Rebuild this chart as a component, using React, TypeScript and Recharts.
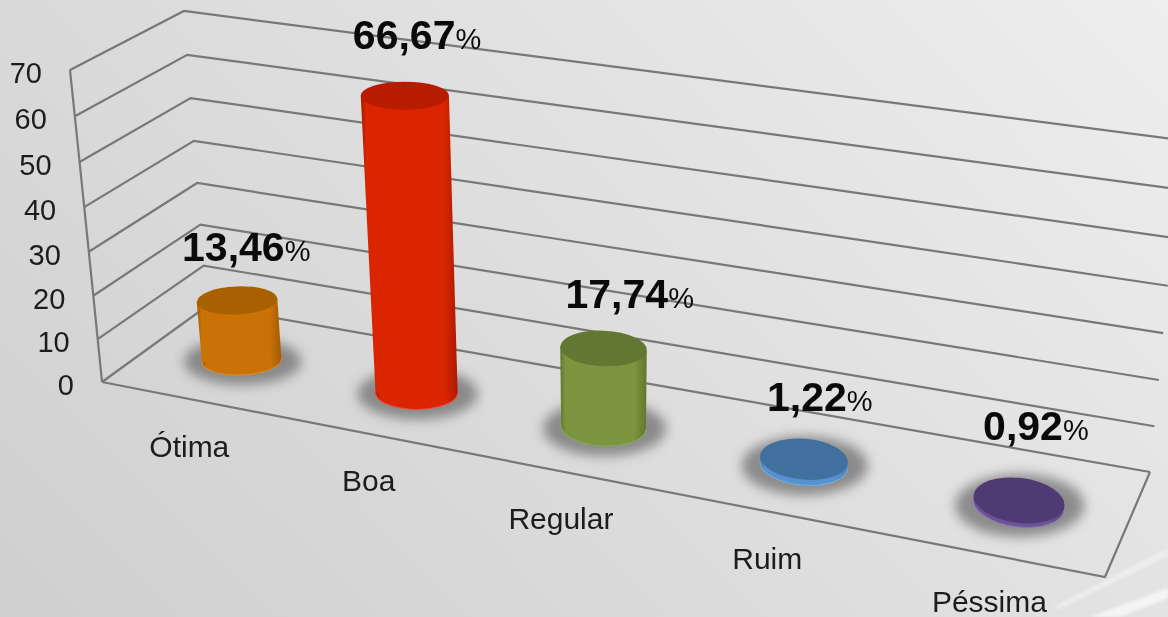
import { Bar, BarChart, CartesianGrid, LabelList, XAxis, YAxis } from 'recharts';

const categories = ['Ótima', 'Boa', 'Regular', 'Ruim', 'Péssima'];
const shares = [13.46, 66.67, 17.74, 1.22, 0.92];
const yTicks = [0, 10, 20, 30, 40, 50, 60, 70];

const rows = categories.map((name, i) => ({ name, share: shares[i] }));

// side, edge, top colours of each cylinder
const barColors = [
  { side: '#cb7206', edge: '#a05a02', top: '#a86000', rim: '#d98a30' },
  { side: '#da2500', edge: '#aa1a00', top: '#b81c00', rim: '#e8503a' },
  { side: '#7b963f', edge: '#5f7730', top: '#617732', rim: '#8fa85a' },
  { side: '#5592cf', edge: '#4a80b8', top: '#41709f', rim: '#7aaad8' },
  { side: '#6a5495', edge: '#5a4682', top: '#4f3a73', rim: '#8a78ad' },
];

// hand placed value labels, relative to the top of each cylinder
const labelNudge = [
  { dx: -55, dy: -39 },
  { dx: -52, dy: -47 },
  { dx: -38, dy: -40 },
  { dx: -37, dy: -48 },
  { dx: -36, dy: -60 },
];

const WIDTH = 1168;
const HEIGHT = 617;
const PLOT_LEFT = 102;
const PLOT_WIDTH = 1003;
const PLOT_TOP = 70;
const PLOT_BOTTOM = 382;
const FONT = '"Liberation Sans", Arial, sans-serif';
const GRID = '#787878';

// floor corners of the 3D box
const FL = [102, 382];
const FR = [1105, 577];
const BR = [1150, 472];
const BL = [207, 306];

// homography from the unit floor square to the picture
const det = (FR[0] - BR[0]) * (BL[1] - BR[1]) - (BL[0] - BR[0]) * (FR[1] - BR[1]);
const sx = FL[0] - FR[0] + BR[0] - BL[0];
const sy = FL[1] - FR[1] + BR[1] - BL[1];
const g = (sx * (BL[1] - BR[1]) - (BL[0] - BR[0]) * sy) / det;
const h = ((FR[0] - BR[0]) * sy - sx * (FR[1] - BR[1])) / det;
const denom = (u: number, d: number) => g * u + h * d + 1;
const project = (u: number, d: number) => {
  const a = FR[0] - FL[0] + g * FR[0];
  const b = BL[0] - FL[0] + h * BL[0];
  const c = FR[1] - FL[1] + g * FR[1];
  const e = BL[1] - FL[1] + h * BL[1];
  const w = denom(u, d);
  return { x: (a * u + b * d + FL[0]) / w, y: (c * u + e * d + FL[1]) / w };
};

const toU = (x: number) => (x - PLOT_LEFT) / PLOT_WIDTH;
const toT = (y: number) => (PLOT_BOTTOM - y) / (PLOT_BOTTOM - PLOT_TOP);
const bow = (t: number) => 14 * t * (1 - t);

// wall points at height t (0 floor, 1 top of the axis)
const frontPoint = (t: number) => ({ x: 102 - 32 * t + bow(t) * 0.15, y: 382 - 312 * t + bow(t) });
const backPoint = (t: number) => ({ x: 207 - 23 * t, y: 306 - 295 * t + bow(t) });
const rightPoint = (t: number) => ({ x: 1150 + 31 * t, y: 472 - 332 * t + bow(t) });

const LEAN_X = 605;
const LEAN = 0.00021;
const BASE_SHIFT = 5;

const cylinderGeometry = (x: number, width: number, height: number) => {
  const u = toU(x + width / 2);
  const p = project(u, 0.47);
  const base = { x: p.x + BASE_SHIFT, y: p.y };
  const scale = 1 / denom(u, 0.5);
  const rx = (width / 2) * scale;
  const ry = 13.5 + 10 * u;
  const top = { x: base.x - (LEAN_X - base.x) * LEAN * height, y: base.y - height };
  const topRx = rx * (1 + 0.00025 * height);
  const topRy = ry * (1 - 0.0005 * height);
  const tilt = (u - 0.3) * 12;
  return { base, top, rx, ry, topRx, topRy, tilt };
};

const Cylinder = (props: any) => {
  const { x, width, height, index } = props;
  const { base, top, rx, ry, topRx, topRy, tilt } = cylinderGeometry(x, width, height);
  const col = barColors[index];
  const rad = (tilt * Math.PI) / 180;
  const cos = Math.cos(rad);
  const sin = Math.sin(rad);
  const side = [
    `M${base.x - rx * cos},${base.y - rx * sin}`,
    `L${top.x - topRx * cos},${top.y - topRx * sin}`,
    `L${top.x + topRx * cos},${top.y + topRx * sin}`,
    `L${base.x + rx * cos},${base.y + rx * sin}`,
    'Z',
  ].join(' ');
  return (
    <g>
      <ellipse
        cx={base.x + 1}
        cy={base.y + 1}
        rx={rx + 19}
        ry={ry + 9}
        fill="#6e6e6e"
        opacity={0.75}
        filter="url(#floorShadow)"
      />
      <ellipse
        cx={base.x}
        cy={base.y}
        rx={rx}
        ry={ry}
        fill={`url(#cyl${index})`}
        stroke={col.rim}
        strokeWidth={1}
        transform={`rotate(${tilt} ${base.x} ${base.y})`}
      />
      <path d={side} fill={`url(#cyl${index})`} />
      <ellipse
        cx={top.x}
        cy={top.y}
        rx={topRx}
        ry={topRy}
        fill={col.top}
        transform={`rotate(${tilt} ${top.x} ${top.y})`}
      />
    </g>
  );
};

const ShareLabel = (props: any) => {
  const box = props.viewBox ?? props;
  const { index, value } = props;
  const { top } = cylinderGeometry(box.x, box.width, box.height);
  const nudge = labelNudge[index];
  return (
    <text x={top.x + nudge.dx} y={top.y + nudge.dy} fill="#0a0a0a" fontFamily={FONT}>
      <tspan fontSize={41} fontWeight="bold">
        {String(value).replace('.', ',')}
      </tspan>
      <tspan fontSize={29}>%</tspan>
    </text>
  );
};

const WallLine = (props: any) => {
  const t = toT(props.y1);
  const f = frontPoint(t);
  const b = backPoint(t);
  const r = rightPoint(t);
  const step = yTicks[1] / yTicks[yTicks.length - 1];
  const next = t < 0.999 ? frontPoint(t + step) : null;
  return (
    <g fill="none" stroke={GRID} strokeWidth={2.2}>
      <polyline points={`${f.x},${f.y} ${b.x},${b.y} ${r.x},${r.y}`} />
      {next && <line x1={f.x} y1={f.y} x2={next.x} y2={next.y} />}
      {t < 0.001 && (
        <polyline points={`${FL[0]},${FL[1]} ${FR[0]},${FR[1]} ${BR[0]},${BR[1]}`} />
      )}
    </g>
  );
};

const ValueTick = (props: any) => {
  const f = frontPoint(toT(props.y));
  return (
    <text x={f.x - 28} y={f.y + 13} textAnchor="end" fontSize={29} fill="#1c1c1c" fontFamily={FONT}>
      {props.payload.value}
    </text>
  );
};

const CategoryTick = (props: any) => {
  const p = project(toU(props.x), 0);
  return (
    <text x={p.x + 2} y={p.y + 58} textAnchor="middle" fontSize={30} fill="#1c1c1c" fontFamily={FONT}>
      {props.payload.value}
    </text>
  );
};

export default function App() {
  return (
    <div
      style={{
        position: 'absolute',
        left: 0,
        top: 0,
        width: WIDTH,
        height: HEIGHT,
        overflow: 'hidden',
        background: 'linear-gradient(225deg, #eeeeee 0%, #dedede 50%, #cfcfcf 100%)',
      }}
    >
      <div style={{ filter: 'blur(0.5px)' }}>
        <BarChart
          width={WIDTH}
          height={HEIGHT}
          data={rows}
          barSize={81}
          margin={{ top: PLOT_TOP, right: WIDTH - PLOT_LEFT - PLOT_WIDTH, bottom: 0, left: 0 }}
        >
          <defs>
            <filter id="floorShadow" x="-30%" y="-60%" width="160%" height="220%">
              <feGaussianBlur stdDeviation="6" />
            </filter>
            <filter id="streakBlur" x="-10%" y="-30%" width="120%" height="160%">
              <feGaussianBlur stdDeviation="1.5" />
            </filter>
            {barColors.map((c, i) => (
              <linearGradient key={i} id={`cyl${i}`} x1="0" y1="0" x2="1" y2="0">
                <stop offset="0%" stopColor={c.edge} />
                <stop offset="6%" stopColor={c.side} />
                <stop offset="86%" stopColor={c.side} />
                <stop offset="100%" stopColor={c.edge} />
              </linearGradient>
            ))}
          </defs>
          <polygon
            points="1168,548 1053,607 1060,609 1168,556"
            fill="#ececec"
            filter="url(#streakBlur)"
          />
          <polygon points="1168,588 1090,617 1120,617 1168,598" fill="#f4f4f4" filter="url(#streakBlur)" />
          <CartesianGrid horizontal={(p: any) => <WallLine key={p.key} {...p} />} vertical={false} />
          <XAxis
            dataKey="name"
            height={HEIGHT - PLOT_BOTTOM}
            axisLine={false}
            tickLine={false}
            interval={0}
            tick={<CategoryTick />}
          />
          <YAxis
            width={PLOT_LEFT}
            domain={[0, 70]}
            ticks={yTicks}
            axisLine={false}
            tickLine={false}
            tick={<ValueTick />}
          />
          <Bar dataKey="share" isAnimationActive={false} shape={<Cylinder />}>
            <LabelList dataKey="share" content={<ShareLabel />} />
          </Bar>
        </BarChart>
      </div>
    </div>
  );
}
